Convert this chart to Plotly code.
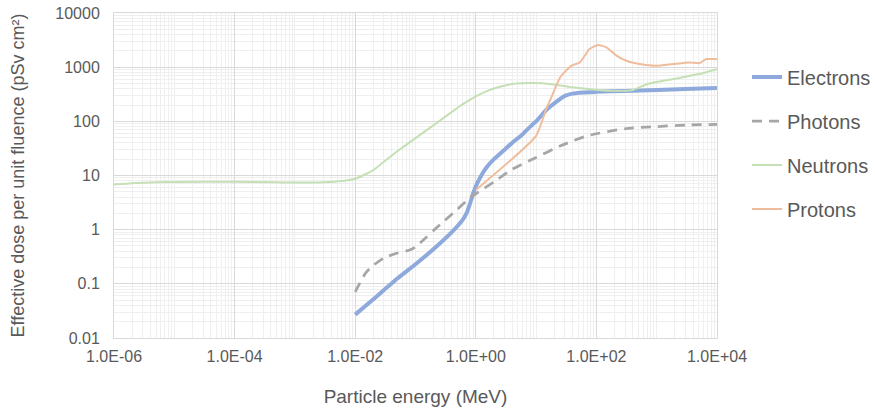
import plotly.graph_objects as go

# Effective dose per unit fluence vs. particle energy (MeV)
electron_energy = [0.01, 0.02, 0.05, 0.1, 0.2, 0.4, 0.6, 0.7, 0.8, 0.9, 1.0, 1.2, 1.5, 2, 3, 4,
                   6, 8, 10, 15, 20, 30, 40, 60, 100, 300, 1000, 3000, 10000]
electron_dose = [0.027, 0.052, 0.125, 0.23, 0.44, 0.9, 1.5, 2.0, 3.0, 4.6, 6.3, 9.5, 14, 20, 30, 40,
                 58, 80, 100, 165, 215, 295, 325, 342, 350, 365, 380, 395, 412]

photon_energy = [0.01, 0.015, 0.02, 0.03, 0.05, 0.08, 0.1, 0.15, 0.2, 0.3, 0.5, 0.8, 1, 2, 4,
                 10, 25, 70, 300, 1000, 3000, 10000]
photon_dose = [0.071, 0.16, 0.22, 0.30, 0.37, 0.42, 0.48, 0.72, 0.97, 1.45, 2.4, 3.9, 4.6, 7.6, 13,
               21.5, 35, 54, 73, 80, 85, 88]

neutron_energy = [1e-6, 2e-6, 5e-6, 1e-5, 1e-4, 5e-4, 1e-3, 3e-3, 6e-3, 0.01, 0.02, 0.03, 0.05,
                  0.1, 0.2, 0.37, 0.6, 1, 1.6, 2.5, 4.7, 8.9, 17, 40, 150, 400, 700, 1900, 5000,
                  10000]
neutron_dose = [6.8, 7.2, 7.5, 7.6, 7.7, 7.5, 7.4, 7.5, 7.9, 8.7, 12.6, 18, 28,
                49, 85, 140, 205, 290, 370, 435, 500, 510, 489, 424, 368, 380, 490, 605, 745,
                920]

proton_energy = [1, 10, 15, 17, 25, 38, 53, 77, 106, 147, 215, 314, 520, 980, 1860, 3500, 5200,
                 6600, 9100, 10000]
proton_dose = [5.4, 54, 180, 241, 646, 1060, 1220, 2160, 2570, 2310, 1630, 1310, 1140, 1060, 1140,
               1220, 1190, 1410, 1410, 1400]

x_tick_vals = [1e-6, 1e-4, 1e-2, 1, 1e2, 1e4]
x_tick_text = ["1.0E-06", "1.0E-04", "1.0E-02", "1.0E+00", "1.0E+02", "1.0E+04"]
y_tick_vals = [0.01, 0.1, 1, 10, 100, 1000, 10000]
y_tick_text = ["0.01", "0.1", "1", "10", "100", "1000", "10000"]

TEXT = "#595959"
FONT = "Liberation Sans, Arial, sans-serif"


def minor_log_ticks(lo, hi, extra_decades=()):
    """Gridline positions at 2..9 x 10^d for each decade, plus any unlabelled decades."""
    vals = []
    for d in range(lo, hi):
        vals += [k * 10.0 ** d for k in range(2, 10)]
    vals += [10.0 ** d for d in extra_decades]
    return sorted(vals)


fig = go.Figure()
fig.add_trace(go.Scatter(x=electron_energy, y=electron_dose, name="Electrons", mode="lines",
                         legendgroup="e",
                         line=dict(color="#8EA9DB", width=4, shape="spline", smoothing=0.4)))
fig.add_trace(go.Scatter(x=photon_energy, y=photon_dose, name="Photons", mode="lines",
                         legendgroup="p",
                         line=dict(color="#A6A6A6", width=2.75, dash="10px,7px", shape="spline",
                                   smoothing=0.6)))
fig.add_trace(go.Scatter(x=neutron_energy, y=neutron_dose, name="Neutrons", mode="lines",
                         legendgroup="n",
                         line=dict(color="#C5E0B4", width=2, shape="spline", smoothing=0.6)))
fig.add_trace(go.Scatter(x=proton_energy, y=proton_dose, name="Protons", mode="lines",
                         legendgroup="pr",
                         line=dict(color="#EFBC9C", width=2, shape="spline", smoothing=0.5)))

axis_common = dict(
    type="log", showgrid=True, gridcolor="#D9D9D9", gridwidth=1,
    showline=True, linecolor="#D9D9D9", linewidth=1, mirror=True,
    zeroline=False, ticks="", automargin=False,
    tickfont=dict(family=FONT, size=16, color=TEXT),
)

fig.update_xaxes(
    **axis_common, range=[-6, 4], tickvals=x_tick_vals, ticktext=x_tick_text,
    ticklabelstandoff=4,
    minor=dict(tickvals=minor_log_ticks(-6, 4, extra_decades=(-5, -3, -1, 1, 3)),
               showgrid=True, gridcolor="#EFEFEF", gridwidth=1, ticks=""),
    title=dict(text="Particle energy (MeV)", font=dict(family=FONT, size=19, color=TEXT),
               standoff=25),
)
fig.update_yaxes(
    **axis_common, range=[-2, 4], tickvals=y_tick_vals, ticktext=y_tick_text,
    ticklabelstandoff=10,
    minor=dict(tickvals=minor_log_ticks(-2, 4), showgrid=True, gridcolor="#EFEFEF",
               gridwidth=1, ticks=""),
    title=dict(text="Effective dose per unit fluence (pSv cm²)",
               font=dict(family=FONT, size=18, color=TEXT), standoff=25),
)

fig.update_layout(
    width=875, height=414,
    margin=dict(l=113.5, r=157.5, t=12.7, b=75.7),
    paper_bgcolor="white", plot_bgcolor="white",
    font=dict(family=FONT, color=TEXT),
    legend=dict(xref="container", yref="container", x=0.8537, xanchor="left",
                y=0.861, yanchor="top",
                font=dict(family=FONT, size=20, color=TEXT),
                tracegroupgap=15, traceorder="grouped", bgcolor="rgba(0,0,0,0)"),
    showlegend=True,
)

fig.write_html("out.html")
